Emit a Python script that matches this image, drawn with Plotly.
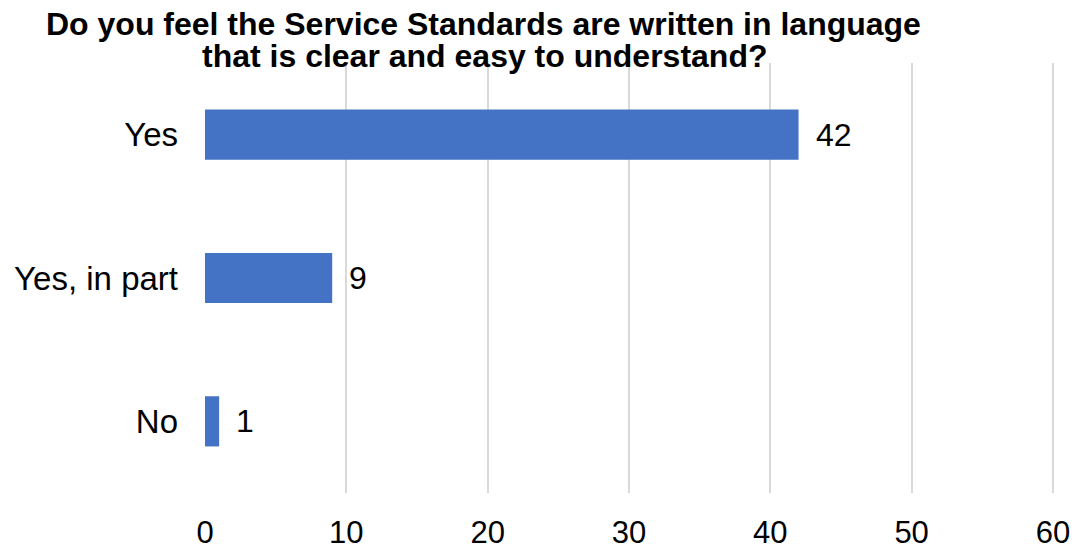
import plotly.graph_objects as go

# Survey responses
categories = ["Yes", "Yes, in part", "No"]
counts = [42, 9, 1]
x_ticks = [0, 10, 20, 30, 40, 50, 60]

title_lines = [
    "Do you feel the Service Standards are written in language",
    "that is clear and easy to understand?",
]

FONT = "Liberation Sans, Arial, sans-serif"
BAR_COLOR = "#4472C4"
X_MAX = 60.5  # a little headroom so the 60 gridline is drawn

fig = go.Figure(
    go.Bar(
        x=counts,
        y=categories,
        orientation="h",
        marker=dict(color=BAR_COLOR, line=dict(width=0)),
        width=0.35,
        hoverinfo="x+y",
    )
)

# Value labels just to the right of each bar
for cat, val in zip(categories, counts):
    fig.add_annotation(
        x=val, y=cat, xref="x", yref="y",
        text=str(val), showarrow=False,
        xanchor="left", yanchor="middle", xshift=15,
        font=dict(family=FONT, size=32, color="#000000"),
    )

# Two-line bold title
W, H = 1075, 548
left, bottom, top = 205, 55, 63
unit_px = 848 / 60
plot_w = round(unit_px * X_MAX)
M = dict(l=left, r=W - left - plot_w, t=top, b=bottom)
plot_h = H - M["t"] - M["b"]
title_centers_px = [(483, 24), (484, 56)]
for line, (cx, cy) in zip(title_lines, title_centers_px):
    fig.add_annotation(
        x=(cx - M["l"]) / plot_w, y=(H - M["b"] - cy) / plot_h,
        xref="paper", yref="paper",
        text=f"<b>{line}</b>", showarrow=False,
        xanchor="center", yanchor="middle",
        font=dict(family=FONT, size=32, color="#000000"),
    )

fig.update_layout(
    width=W, height=H,
    margin=M,
    paper_bgcolor="white",
    plot_bgcolor="white",
    showlegend=False,
    font=dict(family=FONT, size=32, color="#000000"),
    xaxis=dict(
        range=[0, X_MAX],
        tickvals=x_ticks,
        showgrid=True, gridcolor="#d9d9d9", gridwidth=1.5,
        zeroline=False, showline=False,
        ticks="", ticklabelstandoff=18,
        tickfont=dict(family=FONT, size=31),
        automargin=False,
        fixedrange=True,
    ),
    yaxis=dict(
        categoryorder="array", categoryarray=categories,
        autorange="reversed",
        showgrid=False, zeroline=False, showline=False,
        ticks="", ticklabelstandoff=26,
        tickfont=dict(family=FONT, size=33),
        automargin=False,
        fixedrange=True,
    ),
)

fig.write_html("out.html")
